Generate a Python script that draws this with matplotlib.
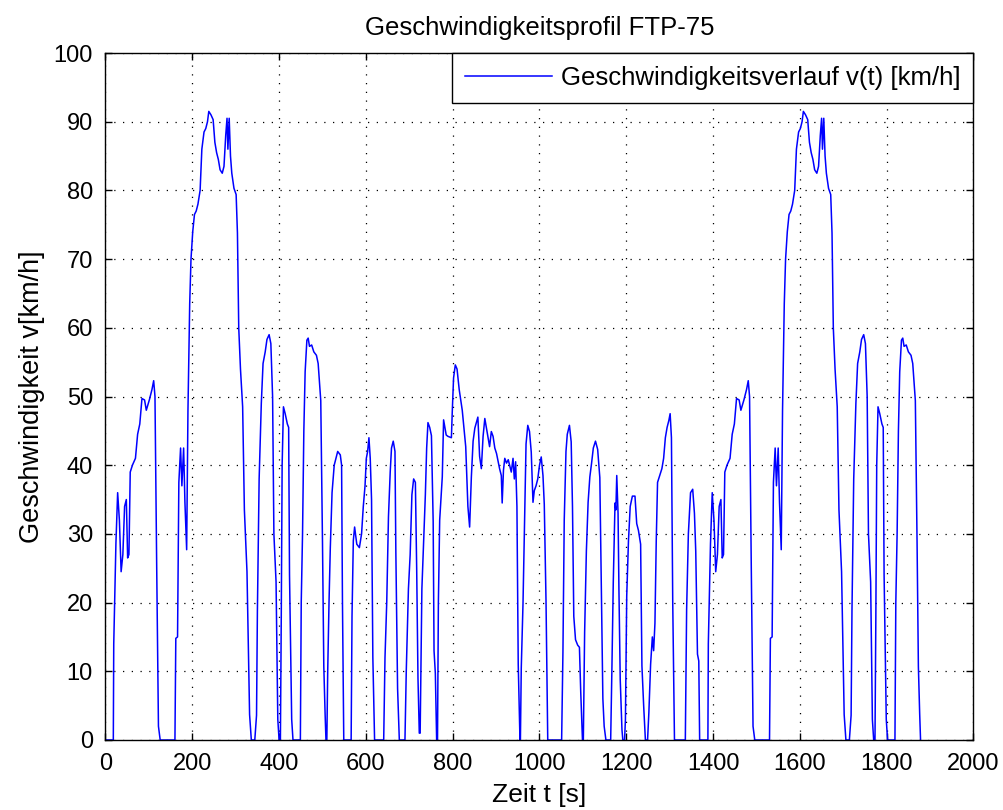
import numpy as np
import matplotlib
matplotlib.use("Agg")
import matplotlib.pyplot as plt

# FTP-75 speed profile: cold-start phase, stabilised phase, hot-start phase
cold_t = [0, 18, 19, 24, 28, 32, 36, 40, 44, 48, 51, 54, 57, 62, 69, 74, 79, 84, 90, 94,
          101, 107, 111, 114, 118, 122, 126,
          160, 162, 166, 169, 173, 176, 180, 183, 187, 190, 194, 197, 201, 205, 209, 213,
          218, 222, 227, 231, 235, 238, 243, 248, 252, 256, 260, 264, 269, 273, 277, 280,
          282, 285, 288, 291, 296, 301, 304, 307, 311, 316, 320, 326, 332, 336,
          344, 348, 350, 354, 359, 363, 368, 372, 377, 381, 385, 388, 393, 397, 400,
          403, 405, 407, 410, 414, 419, 422, 424, 429, 432,
          449, 451, 454, 457, 460, 464, 467, 470, 475, 480, 486, 490, 496, 500, 503, 506, 508]
cold_v = [0, 0, 14, 28.6, 36, 32, 24.5, 27, 34, 35, 26.5, 27, 39, 40, 41, 44.5, 46, 49.7, 49.5, 48,
          49.5, 51, 52.3, 50, 25, 2, 0,
          0, 14.8, 15, 37.5, 42.5, 37, 42.5, 34.6, 27.7, 48, 63.5, 70, 74, 76.5, 77, 78,
          80, 86, 88.5, 89, 90, 91.5, 91, 90.3, 87, 85.5, 84.5, 83, 82.5, 83.5, 88, 90.5,
          86, 90.5, 85, 82.5, 80.3, 79.4, 73.8, 60, 54, 48.5, 33.5, 24.5, 3.7, 0,
          0, 3.6, 18.8, 38, 49, 54.8, 56.5, 58.3, 59, 57.7, 50, 30, 23, 3, 0,
          0, 18, 40, 48.5, 47.5, 46, 45.5, 24, 3, 0,
          0, 20, 30, 45, 53.6, 58.2, 58.5, 57.3, 57.5, 56.5, 56, 54.8, 49.4, 28.6, 10.7, 3.8, 0]

stab_t = [510, 512, 515, 518, 522, 527, 535, 541, 544, 546, 549,
          566, 568, 571, 574, 579, 585, 590, 594, 598, 601, 604, 607, 610, 613, 616, 620,
          641, 644, 648, 652, 656, 659, 663, 667, 669, 673, 677,
          690, 693, 698, 702, 706, 710, 714, 717, 720, 723,
          725, 729, 733, 737, 740, 743, 747, 751, 755, 757, 760, 763,
          765, 767, 770, 776, 779, 785, 789, 797, 799, 802, 806, 810, 815, 822, 830, 835,
          839, 843, 847, 851, 858, 862, 866, 870, 874, 881, 885, 889, 893, 897, 901, 908,
          912, 914, 917, 920, 924, 928, 935, 939, 942, 945, 948, 951, 955,
          956, 958, 962, 966, 969, 973, 977, 981, 985, 988, 992, 996, 1000, 1004, 1008,
          1011, 1015, 1019,
          1051, 1054, 1057, 1061, 1064, 1069, 1073, 1076, 1079, 1083, 1088, 1092, 1095, 1099,
          1101, 1104, 1108, 1112, 1116, 1120, 1124, 1129, 1134, 1139, 1142, 1146, 1149, 1153,
          1164, 1167, 1170, 1174, 1176, 1178, 1181, 1183, 1186, 1190, 1192,
          1196, 1198, 1201, 1205, 1209, 1214, 1220, 1224, 1228, 1233, 1236, 1240, 1244,
          1249, 1252, 1256, 1260, 1263, 1266, 1269, 1272, 1277, 1282, 1286, 1290, 1294,
          1298, 1301, 1304, 1307, 1311,
          1336, 1339, 1343, 1348, 1353, 1357, 1360, 1364, 1367, 1369]
stab_v = [0, 10, 20, 28, 36, 40, 42, 41.5, 40, 20, 0,
          0, 18, 29, 31, 28.5, 28, 30, 34, 37, 41, 42, 44, 41, 35, 12, 0,
          0, 12, 20, 32.5, 39, 42.5, 43.5, 42, 27.4, 7.5, 0,
          0, 10, 22, 27, 35.7, 38, 37.5, 25, 9, 1,
          1, 22, 29, 35.7, 42.5, 46.2, 45.5, 44.3, 31.8, 13, 9.7, 0,
          0, 20, 32, 38.3, 46.6, 44.4, 44.2, 44, 47.8, 52.7, 54.6, 54, 51, 48, 42.7, 34,
          31, 38.3, 43.5, 45.4, 47, 41.3, 39.5, 44.2, 46.8, 44.2, 42.7, 44.9, 44.2, 42.5, 41.7, 39.5,
          38.5, 34.5, 39.3, 41, 40.3, 40.8, 39, 41, 38, 40.5, 34, 11, 0,
          0, 10.5, 19.9, 33.6, 43.1, 45.8, 44.9, 41.9, 34.6, 36.3, 37, 38, 40, 41.2, 38.5,
          34.3, 20.3, 0,
          0, 12.8, 32, 42, 44.5, 45.8, 43.4, 34, 18, 14.6, 13.8, 13.5, 7, 0,
          0, 15.7, 27.5, 34.6, 38.3, 40.3, 42.5, 43.5, 42.3, 38.2, 24.3, 6, 2, 0,
          0, 11, 23, 34.5, 33.5, 38.5, 33, 22, 8.8, 1.5, 0,
          0, 3, 21, 29, 34, 35.5, 35.5, 31.5, 30.5, 28.5, 10.8, 5, 0,
          0, 4, 11, 15, 13, 17, 29, 37.5, 38.5, 39.5, 41, 44, 45.5,
          46.5, 47.5, 44, 20, 0,
          0, 19, 30, 36, 36.5, 33, 27.5, 12.5, 11.5, 0]

hot_t = [1370, 1388, 1389, 1394, 1398, 1402, 1406, 1410, 1414, 1418, 1421, 1424, 1427, 1432,
         1439, 1444, 1449, 1454, 1460, 1464, 1471, 1477, 1481, 1484, 1488, 1492, 1496,
         1530, 1532, 1536, 1539, 1543, 1546, 1550, 1553, 1557, 1560, 1564, 1567, 1571, 1575,
         1579, 1583, 1588, 1592, 1597, 1601, 1605, 1608, 1613, 1618, 1622, 1626, 1630, 1634,
         1639, 1643, 1647, 1650, 1652, 1655, 1658, 1661, 1666, 1671, 1674, 1677, 1681, 1686,
         1690, 1696, 1702, 1706,
         1714, 1718, 1720, 1724, 1729, 1733, 1738, 1742, 1747, 1751, 1755, 1758, 1763, 1767, 1770,
         1773, 1775, 1777, 1780, 1784, 1789, 1792, 1794, 1799, 1802,
         1819, 1821, 1824, 1827, 1830, 1834, 1837, 1840, 1845, 1850, 1856, 1860, 1866, 1870,
         1873, 1876, 1878]
hot_v = [0, 0, 14, 28.6, 36, 32, 24.5, 27, 34, 35, 26.5, 27, 39, 40,
         41, 44.5, 46, 49.7, 49.5, 48, 49.5, 51, 52.3, 50, 25, 2, 0,
         0, 14.8, 15, 37.5, 42.5, 37, 42.5, 34.6, 27.7, 48, 63.5, 70, 74, 76.5,
         77, 78, 80, 86, 88.5, 89, 90, 91.5, 91, 90.3, 87, 85.5, 84.5, 83,
         82.5, 83.5, 88, 90.5, 86, 90.5, 85, 82.5, 80.3, 79.4, 73.8, 60, 54, 48.5,
         33.5, 24.5, 3.7, 0,
         0, 3.6, 18.8, 38, 49, 54.8, 56.5, 58.3, 59, 57.7, 50, 30, 23, 3, 0,
         0, 18, 40, 48.5, 47.5, 46, 45.5, 24, 3, 0,
         0, 20, 30, 45, 53.6, 58.2, 58.5, 57.3, 57.5, 56.5, 56, 54.8, 49.4, 28.6,
         10.7, 3.8, 0]

x_ticks = list(range(0, 2001, 200))
y_ticks = list(range(0, 101, 10))

title_text = "Geschwindigkeitsprofil FTP-75"
x_label = "Zeit t [s]"
y_label = "Geschwindigkeit v[km/h]"
legend_label = "Geschwindigkeitsverlauf v(t) [km/h]"

t = np.concatenate([cold_t, stab_t, hot_t])
v = np.concatenate([cold_v, stab_v, hot_v])

plt.rcParams["font.family"] = ["Liberation Sans", "DejaVu Sans"]
TICK_FS = 17
TEXT_FS = 18.5

fig = plt.figure(figsize=(10.04, 8.10), dpi=100, facecolor="white")
ax = fig.add_axes([105.5 / 1004, 70 / 810, 868 / 1004, 687 / 810])

ax.plot(t, v, color="#0000ff", lw=1.1, label=legend_label)

ax.set_xlim(0, 2000)
ax.set_ylim(0, 100)
ax.set_xticks(x_ticks)
ax.set_yticks(y_ticks)
ax.tick_params(direction="in", length=5, width=1, top=True, right=True,
               labelsize=TICK_FS, pad=9, colors="black")
ax.grid(True, color="black", linestyle=(0, (1, 6)), linewidth=0.9)
for s in ax.spines.values():
    s.set_linewidth(1.0)
    s.set_color("black")

ax.set_title(title_text, fontsize=TEXT_FS, pad=13)
ax.set_xlabel(x_label, fontsize=19, labelpad=6)
ax.set_ylabel(y_label, fontsize=19.5, labelpad=6)

leg = ax.legend(loc="upper right", fontsize=TEXT_FS, borderaxespad=0, fancybox=False,
                framealpha=1, edgecolor="black", handlelength=3.4, handletextpad=0.35,
                borderpad=0.5)
leg.get_frame().set_linewidth(1.0)

fig.savefig("out.png", dpi=100, facecolor="white")
